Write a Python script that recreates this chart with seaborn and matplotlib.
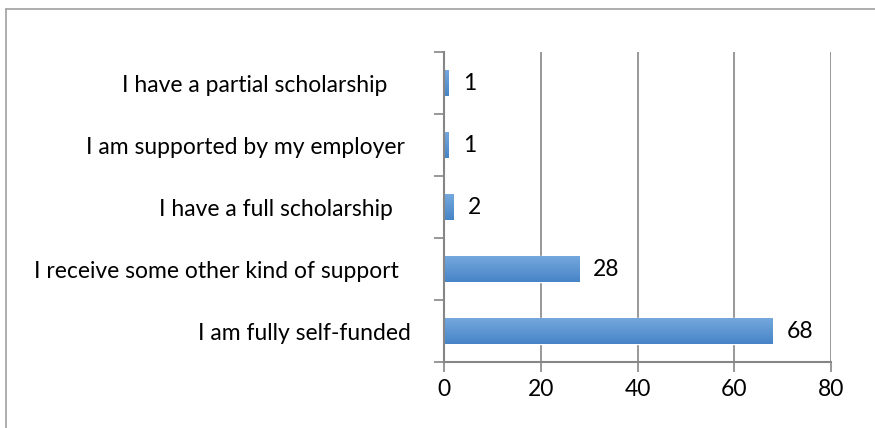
import numpy as np
import pandas as pd
import matplotlib
matplotlib.use("Agg")
import matplotlib.pyplot as plt
import seaborn as sns
from matplotlib.colors import LinearSegmentedColormap

# Funding sources, listed top to bottom
categories = [
    "I have a partial scholarship    ",
    "I am supported by my employer ",
    "I have a full scholarship   ",
    "I receive some other kind of support  ",
    "I am fully self-funded",
]
counts = [1, 1, 2, 28, 68]
x_ticks = [0, 20, 40, 60, 80]

df = pd.DataFrame({"source": categories, "count": counts})

sns.set_theme(style="white")
plt.rcParams["font.family"] = ["Lato", "DejaVu Sans"]
FS = 16.5

fig = plt.figure(figsize=(8.75, 4.28), dpi=100)
fig.patch.set_facecolor("white")
ax = fig.add_axes([444 / 875, 1 - 362 / 428, 387 / 875, 310 / 428])

sns.barplot(data=df, x="count", y="source", orient="h", ax=ax,
            color="#5b95d2", width=0.42, saturation=1)

# Vertical gradient fill on each bar: lighter along the top edge
grad = LinearSegmentedColormap.from_list("bar", ["#76aade", "#4784c7"])
for patch in list(ax.patches):
    x0, y0 = patch.get_x(), patch.get_y()
    w, h = patch.get_width(), patch.get_height()
    img = ax.imshow(np.linspace(0, 1, 64).reshape(-1, 1), cmap=grad,
                    extent=[x0, x0 + w, y0, y0 + h], aspect="auto",
                    origin="lower", zorder=patch.get_zorder() + 0.1)
    img.set_clip_path(patch)

ax.set_xlim(0, 80)
ax.set_ylim(4.5, -0.5)
ax.set_xticks(x_ticks)
ax.set_xlabel("")
ax.set_ylabel("")

axis_grey = "#868686"
ax.grid(axis="x", color=axis_grey, linewidth=1.2)
ax.set_axisbelow(True)
for side in ["top", "right"]:
    ax.spines[side].set_visible(False)
for side in ["left", "bottom"]:
    ax.spines[side].set_color(axis_grey)
    ax.spines[side].set_linewidth(1.5)

# Category boundaries carry the y tick marks
ax.set_yticks(np.arange(-0.5, 5, 1), minor=True)
ax.tick_params(axis="y", which="major", length=0, pad=24, labelsize=FS,
               labelcolor="black")
ax.tick_params(axis="y", which="minor", left=True, length=7, width=1.2,
               color=axis_grey)
ax.tick_params(axis="x", which="major", bottom=True, length=7, width=1.2,
               color=axis_grey, labelsize=FS, labelcolor="black", pad=5)

for container in ax.containers:
    ax.bar_label(container, labels=[str(v) for v in counts], padding=10,
                 fontsize=FS, color="black")

# Outer frame of the chart area
fig.add_artist(plt.Line2D([6 / 875, 6 / 875], [0, 1 - 9 / 428],
                          transform=fig.transFigure, color="#a0a0a0", lw=1.2))
fig.add_artist(plt.Line2D([6 / 875, 1], [1 - 9 / 428, 1 - 9 / 428],
                          transform=fig.transFigure, color="#a0a0a0", lw=1.2))

fig.savefig("out.png", dpi=100)
